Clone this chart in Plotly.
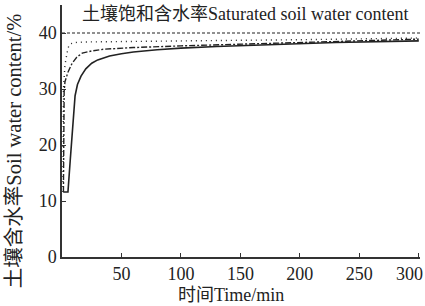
import plotly.graph_objects as go

# Data
sat_time = [0, 301]
sat_value = [40, 40]

dot_time = [0.8, 1.2, 2.5, 4, 5, 6.5, 10, 20, 50, 100, 150, 200, 250, 300]
dot_value = [11.6, 30.0, 34.3, 36.5, 37.3, 38.0, 38.3, 38.4, 38.5, 38.6, 38.7, 38.8, 38.9, 39.1]

dashdot_time = [1.2, 1.8, 2.5, 5, 8.5, 12.5, 17, 25, 35, 60, 100, 150, 200, 250, 300]
dashdot_value = [11.6, 29.5, 31.3, 33.0, 34.6, 35.7, 36.4, 36.8, 37.1, 37.4, 37.7, 38.0, 38.4, 38.7, 38.9]

solid_time = [1, 5, 7, 9, 11, 13, 16, 20, 25, 30, 40, 50, 60, 80, 100, 130, 175, 230, 300]
solid_value = [11.6, 11.6, 17.5, 23.5, 28.8, 30.8, 32.3, 33.6, 34.6, 35.2, 35.9, 36.3, 36.6, 37.0, 37.3, 37.6, 37.9, 38.3, 38.6]

x_ticks = [50, 100, 150, 200, 250, 300]
x_tick_labels = ["50", "100", "150", "200", "250", ""]  # last one drawn as annotation to fit the edge
last_x_label = "300"
y_ticks = [0, 10, 20, 30, 40]

FONT = "Liberation Serif, Times New Roman, Noto Sans CJK SC, serif"
LC = "#222222"
TC = "#222"

fig = go.Figure()
fig.add_trace(go.Scatter(x=sat_time, y=sat_value, mode="lines",
                         line=dict(color=LC, width=1.2, dash="3px,2px"), showlegend=False))
fig.add_trace(go.Scatter(x=dot_time, y=dot_value, mode="lines",
                         line=dict(color=LC, width=1.4, dash="1px,4px"), showlegend=False))
fig.add_trace(go.Scatter(x=dashdot_time, y=dashdot_value, mode="lines",
                         line=dict(color=LC, width=1.4, dash="6px,2px,2px,2px"), showlegend=False))
fig.add_trace(go.Scatter(x=solid_time, y=solid_value, mode="lines",
                         line=dict(color=LC, width=1.6), showlegend=False))

fig.add_annotation(text="土壤饱和含水率Saturated soil water content",
                   xref="paper", yref="paper", x=0.05, y=0.964,
                   xanchor="left", yanchor="middle", showarrow=False,
                   font=dict(family=FONT, size=18, color=TC))

fig.add_annotation(text=last_x_label, xref="x", yref="paper", x=x_ticks[-1], y=0,
                   xanchor="right", yanchor="middle", xshift=6, yshift=-17,
                   showarrow=False, font=dict(family=FONT, size=18, color=TC))

# axis titles
fig.add_annotation(text="时间Time/min", xref="paper", yref="paper", x=0.472, y=0,
                   xanchor="center", yanchor="middle", yshift=-38,
                   showarrow=False, font=dict(family=FONT, size=18, color=TC))
fig.add_annotation(text="土壤含水率Soil water content/%", xref="paper", yref="paper",
                   x=-0.134, y=0.42, xanchor="center", yanchor="middle", textangle=-90,
                   showarrow=False, font=dict(family=FONT, size=20.5, color=TC))

fig.update_layout(
    width=425, height=306,
    margin=dict(l=62, r=5, t=5, b=49),
    plot_bgcolor="white", paper_bgcolor="white",
    font=dict(family=FONT, size=18, color=TC),
)
fig.update_xaxes(range=[0, 301], tickvals=x_ticks, ticktext=x_tick_labels,
                 ticks="inside", ticklen=4,
                 tickcolor="#333", showline=True, linecolor="#333", linewidth=1.5,
                 showgrid=False, zeroline=False, automargin=False,
                 tickfont=dict(size=18))
fig.update_yaxes(range=[0, 45], tickvals=y_ticks, ticks="inside", ticklen=4,
                 tickcolor="#333", showline=True, linecolor="#333", linewidth=1.5,
                 showgrid=False, zeroline=False, automargin=False,
                 tickfont=dict(size=18))

fig.write_html("out.html", config={"displayModeBar": False},
               post_script="document.body.style.margin='0';document.body.style.overflow='hidden';")
